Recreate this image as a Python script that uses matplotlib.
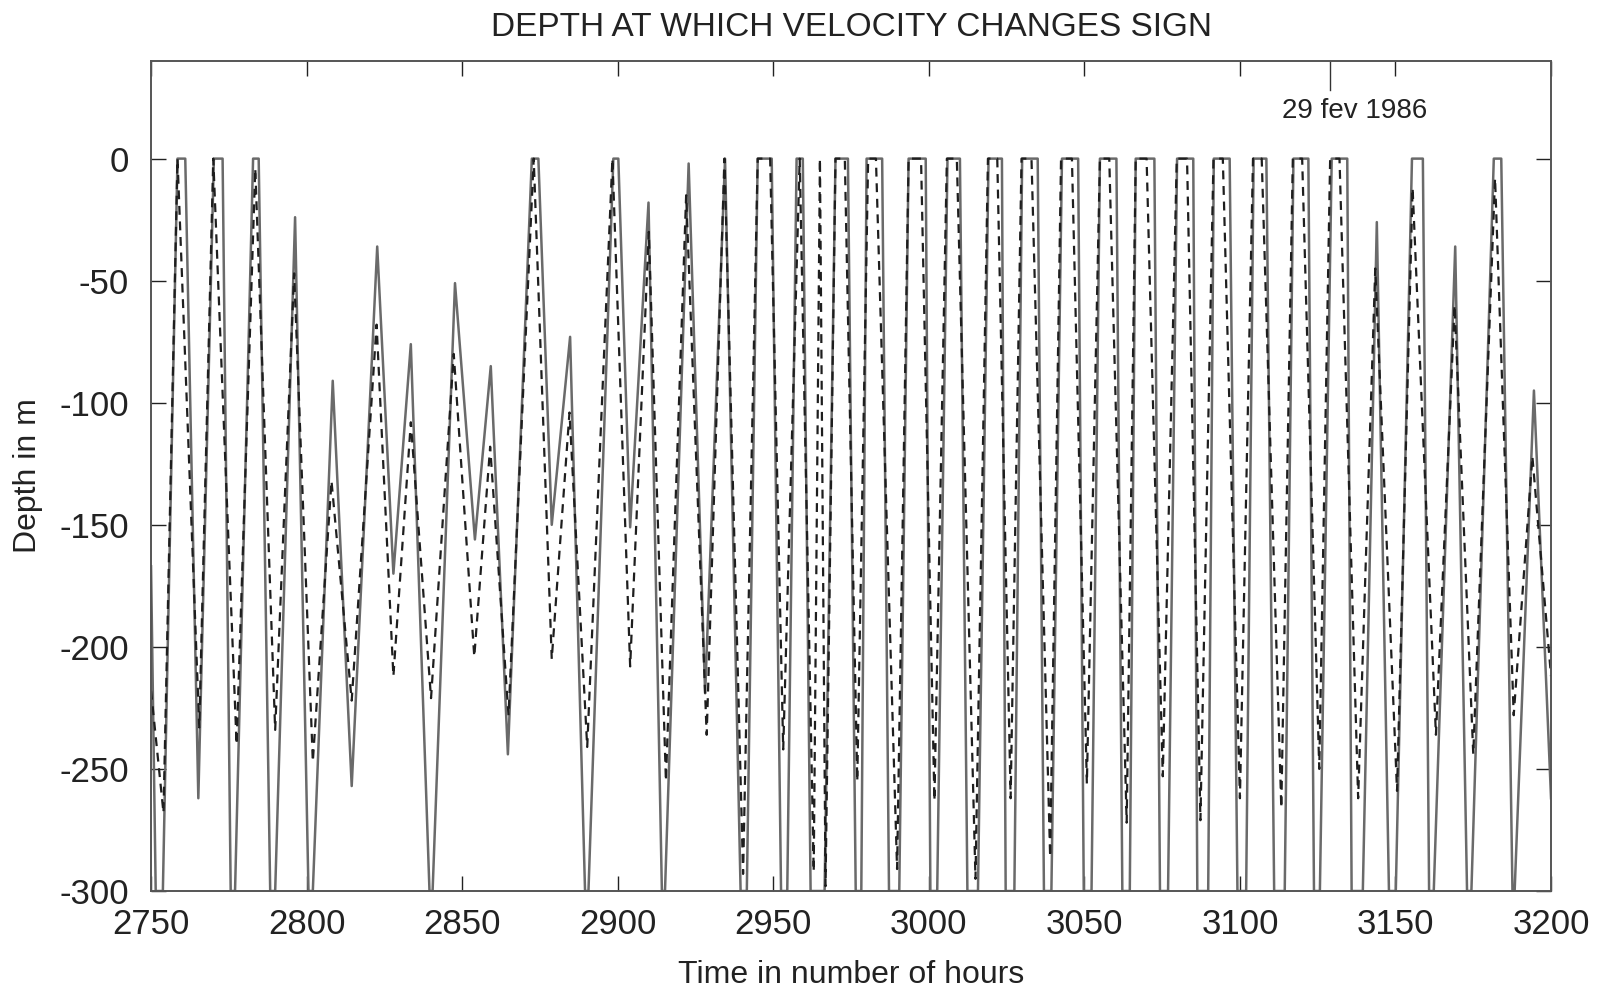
import matplotlib
matplotlib.use("Agg")
import matplotlib.pyplot as plt
import numpy as np

plt.rcParams['font.family'] = ['Liberation Sans', 'DejaVu Sans']
plt.rcParams['axes.unicode_minus'] = False

# solid curve: (hour, depth) vertices; depth clamped to [-300, 0]
solid_t = [2750, 2751.5, 2753.8, 2758.5, 2761, 2765.2, 2770.2, 2773, 2775.6, 2777,
           2782.8, 2784.6, 2788.3, 2789.9, 2796.3, 2800.6, 2802, 2808.4, 2814.5, 2822.7,
           2827.9, 2833.5, 2839.5, 2840.5, 2847.7, 2854.1, 2859.2, 2864.7, 2872.4, 2874.5,
           2878.8, 2884.7, 2889.5, 2890.6, 2898.6, 2900.2, 2904, 2909.9, 2914.2, 2915.2,
           2922.8, 2928.1, 2934.5, 2939.5, 2941.5, 2945, 2949.5, 2952.5, 2954.5, 2957.5,
           2959.5, 2962, 2966.5, 2970, 2974, 2976.5, 2978.3, 2980, 2985, 2987.2,
           2990.5, 2993.5, 2999, 3000.5, 3002.7, 3006, 3010, 3012.4, 3015.8, 3019.2,
           3023.5, 3024.7, 3027.5, 3030, 3035, 3037, 3039.4, 3042.8, 3048, 3049.8,
           3052.3, 3055, 3060.3, 3062.2, 3064.6, 3066.5, 3072.5, 3074.3, 3076.9, 3079.8,
           3085, 3086.3, 3089.8, 3091.6, 3096.7, 3099.2, 3102, 3104.4, 3108.5, 3111,
           3114.4, 3117.2, 3122, 3123.8, 3125.7, 3129.5, 3134.5, 3135.9, 3139.5, 3144,
           3147.9, 3150.1, 3155.3, 3158.8, 3160.8, 3162.3, 3169.2, 3173, 3174.4, 3181.6,
           3184, 3187.6, 3188.3, 3194.5, 3200]
solid_d = [-167, -300, -300, 0, 0, -262, 0, 0, -300, -300,
           0, 0, -300, -300, -24, -300, -300, -91, -257, -36,
           -170, -76, -300, -300, -51, -156, -85, -244, 0, 0,
           -150, -73, -300, -300, 0, 0, -151, -18, -300, -300,
           -2, -219, 0, -300, -300, 0, 0, -300, -300, 0,
           0, -300, -300, 0, 0, -300, -300, 0, 0, -300,
           -300, 0, 0, -300, -300, 0, 0, -300, -300, 0,
           0, -300, -300, 0, 0, -300, -300, 0, 0, -300,
           -300, 0, 0, -300, -300, 0, 0, -300, -300, 0,
           0, -300, -300, 0, 0, -300, -300, 0, 0, -300,
           -300, 0, 0, -300, -300, 0, 0, -300, -300, -26,
           -300, -300, 0, 0, -300, -300, -36, -300, -300, 0,
           0, -300, -300, -95, -262]

# dashed curve
dash_t = [2750, 2754, 2758.5, 2765.5, 2770, 2777.5, 2783.5, 2789.9, 2796, 2802,
          2808, 2814.5, 2822.5, 2827.9, 2833.5, 2840, 2847.3, 2853.9, 2859, 2864.9,
          2873, 2878.8, 2884.5, 2890.2, 2898.3, 2904, 2910, 2915.5, 2922, 2928.6,
          2934.3, 2940.3, 2945, 2949, 2953.2, 2958.5, 2963, 2965, 2966.8, 2970,
          2973, 2977, 2980.5, 2983, 2989.8, 2993.5, 2997.5, 3001.8, 3005.8, 3009,
          3015, 3019, 3022, 3026.3, 3029.8, 3033, 3039, 3042.5, 3046, 3050.8,
          3055, 3058, 3063.6, 3066.5, 3070, 3075.2, 3079.7, 3083, 3087.3, 3091.5,
          3094.5, 3100, 3104.2, 3107, 3113.3, 3117, 3120, 3125.5, 3129, 3132,
          3138, 3143.5, 3150.5, 3155.5, 3163, 3169, 3175, 3182, 3188, 3194,
          3200]
dash_d = [-218, -268, 0, -233, 0, -240, -4, -234, -47, -247,
          -132, -222, -68, -212, -108, -221, -80, -204, -118, -228,
          0, -205, -104, -241, 0, -208, -30, -255, -15, -236,
          0, -293, 0, 0, -242, 0, -292, 0, -298, 0,
          0, -255, 0, 0, -291, 0, 0, -263, 0, 0,
          -295, 0, 0, -262, 0, 0, -286, 0, 0, -256,
          0, 0, -272, 0, 0, -253, 0, 0, -271, 0,
          0, -262, 0, 0, -266, 0, 0, -250, 0, 0,
          -262, -45, -259, -12, -236, -60, -244, -8, -228, -122,
          -212]

date_mark = 3129
date_label = '29 fev 1986'

fig = plt.figure(figsize=(16, 9.93), dpi=100)
ax = fig.add_axes([0.0944, 0.1027, 0.8750, 0.8359])

ax.plot(solid_t, solid_d, color='#6a6a6a', lw=1.8)
ax.plot(dash_t, dash_d, color='#1e1e1e', lw=1.6, dashes=(4, 3))

ax.set_xlim(2750, 3200)
ax.set_ylim(-300, 40)
ax.set_xticks(np.arange(2750, 3201, 50))
ax.set_yticks(np.arange(-300, 1, 50))
ax.tick_params(direction='in', length=11, width=1, top=True, right=True,
               labelsize=25, colors='#222222')
ax.tick_params(axis='y', pad=16)
ax.tick_params(axis='x', pad=12)
for s in ax.spines.values():
    s.set_color('#555555')
    s.set_linewidth(1.4)

# long tick marking the date
ax.plot([date_mark, date_mark], [40, 28], color='#333333', lw=1, clip_on=False)
ax.text(3137, 19.6, date_label, fontsize=20, ha='center', va='center', color='#222222')

ax.set_title('DEPTH AT WHICH VELOCITY CHANGES SIGN', fontsize=24, pad=18, color='#222222')
ax.set_xlabel('Time in number of hours', fontsize=23, color='#222222')
ax.set_ylabel('Depth in m', fontsize=23, color='#222222')
ax.xaxis.set_label_coords(0.5, -0.083)
ax.yaxis.set_label_coords(-0.077, 0.5)

fig.savefig('out.png', dpi=100)
